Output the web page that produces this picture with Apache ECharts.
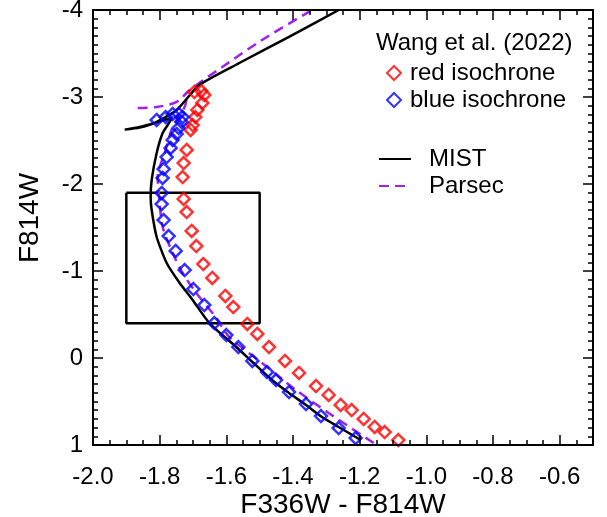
<!DOCTYPE html>
<html>
<head>
<meta charset="utf-8">
<script src="https://cdn.jsdelivr.net/npm/echarts@6/dist/echarts.min.js"></script>
<style>
  html, body { margin: 0; padding: 0; background: #fff; }
  #chart { width: 607px; height: 517px; }
</style>
</head>
<body>
<div id="chart"></div>
<script>
// data: [F336W - F814W, F814W]
const mistCurve = [
  [-1.197, 0.943], [-1.212, 0.908], [-1.263, 0.793], [-1.313, 0.678], [-1.361, 0.540],
  [-1.412, 0.402], [-1.463, 0.253], [-1.522, 0.046], [-1.570, -0.126], [-1.651, -0.402],
  [-1.701, -0.667], [-1.740, -0.862], [-1.779, -1.092], [-1.809, -1.391], [-1.824, -1.701],
  [-1.827, -1.851], [-1.824, -2.046], [-1.809, -2.356], [-1.791, -2.586], [-1.770, -2.713],
  [-1.764, -2.759], [-1.815, -2.701], [-1.860, -2.655], [-1.905, -2.625], [-1.860, -2.648],
  [-1.815, -2.703], [-1.749, -2.851], [-1.681, -3.138], [-1.561, -3.391], [-1.412, -3.690],
  [-1.263, -4.0]
]
const parsecLower = [
  [-1.158, 0.977], [-1.293, 0.632], [-1.391, 0.368], [-1.493, 0.057], [-1.591, -0.241],
  [-1.630, -0.460], [-1.690, -0.747], [-1.731, -0.977], [-1.761, -1.207], [-1.791, -1.506],
  [-1.800, -1.782], [-1.806, -2.080], [-1.785, -2.356], [-1.761, -2.655], [-1.725, -2.885],
  [-1.719, -2.989]
]
const parsecUpper = [
  [-1.866, -2.874], [-1.809, -2.885], [-1.749, -2.943], [-1.710, -3.080], [-1.612, -3.345],
  [-1.493, -3.655], [-1.343, -4.0]
]
const redIso = [
  [-1.696, -3.057], [-1.675, -3.069], [-1.666, -3.023], [-1.672, -2.931], [-1.687, -2.851],
  [-1.693, -2.770], [-1.701, -2.678], [-1.707, -2.621], [-1.719, -2.391], [-1.728, -2.241],
  [-1.731, -2.080], [-1.728, -1.828], [-1.719, -1.678], [-1.704, -1.460], [-1.690, -1.287],
  [-1.669, -1.080], [-1.642, -0.920], [-1.603, -0.713], [-1.579, -0.586], [-1.537, -0.391],
  [-1.507, -0.276], [-1.472, -0.126], [-1.424, 0.034], [-1.382, 0.172], [-1.331, 0.322],
  [-1.293, 0.425], [-1.257, 0.540], [-1.224, 0.598], [-1.188, 0.701], [-1.155, 0.793],
  [-1.125, 0.851], [-1.084, 0.943]
]
const blueIso = [
  [-1.809, -2.736], [-1.782, -2.770], [-1.761, -2.805], [-1.743, -2.805], [-1.731, -2.770],
  [-1.734, -2.713], [-1.743, -2.644], [-1.749, -2.575], [-1.761, -2.506], [-1.767, -2.414],
  [-1.779, -2.310], [-1.788, -2.172], [-1.791, -2.069], [-1.794, -1.897], [-1.794, -1.770],
  [-1.788, -1.586], [-1.773, -1.402], [-1.752, -1.230], [-1.725, -1.011], [-1.699, -0.793],
  [-1.666, -0.609], [-1.636, -0.402], [-1.600, -0.264], [-1.564, -0.126], [-1.522, 0.034],
  [-1.478, 0.161], [-1.451, 0.253], [-1.412, 0.391], [-1.361, 0.529], [-1.316, 0.667],
  [-1.263, 0.805], [-1.212, 0.920]
]
// selection box
const boxX = [-1.9, -1.5]
const boxY = [-1.9, -0.4]

const font = 'Liberation Sans, Arial, Helvetica, sans-serif'
const boxPath = [
  [boxX[0], boxY[0]], [boxX[1], boxY[0]], [boxX[1], boxY[1]], [boxX[0], boxY[1]], [boxX[0], boxY[0]]
]

function xAxisOf(pos, interval, len, main) {
  const labelled = main && pos === 'bottom'
  return {
    type: 'value',
    position: pos,
    min: -2.0,
    max: -0.5,
    interval: interval,
    z: 10,
    axisLine: { show: main, onZero: false, lineStyle: { color: '#000', width: 2 } },
    axisTick: { show: true, inside: true, length: len, lineStyle: { color: '#000', width: 1.5 } },
    splitLine: { show: false },
    axisLabel: labelled ? {
      show: true,
      color: '#000',
      fontFamily: font,
      fontSize: 24,
      margin: 20,
      formatter: v => (v > -0.55 ? '' : v.toFixed(1))
    } : { show: false }
  }
}

function yAxisOf(pos, main) {
  return {
    type: 'value',
    position: pos,
    min: -4,
    max: 1,
    interval: 1,
    inverse: true,
    z: 10,
    axisLine: { show: true, onZero: false, lineStyle: { color: '#000', width: 2 } },
    axisTick: { show: true, inside: true, length: 10, lineStyle: { color: '#000', width: 1.5 } },
    minorTick: { show: true, splitNumber: 10, length: 5, lineStyle: { color: '#000', width: 1.5 } },
    splitLine: { show: false },
    minorSplitLine: { show: false },
    axisLabel: main ? {
      show: true,
      color: '#000',
      fontFamily: font,
      fontSize: 24,
      margin: 10
    } : { show: false }
  }
}

const chart = echarts.init(document.getElementById('chart'))

chart.setOption({
  animation: false,
  grid: { left: 93, right: 14, top: 10, bottom: 72, outerBoundsMode: 'none' },
  title: {
    text: 'Wang et al. (2022)',
    left: 376,
    top: 31,
    padding: 0,
    textStyle: { color: '#000', fontFamily: font, fontSize: 24, fontWeight: 'normal' }
  },
  // axis titles
  graphic: [
    {
      type: 'text',
      x: 343,
      y: 505,
      style: {
        text: 'F336W - F814W', fill: '#000', fontFamily: font, fontSize: 28,
        align: 'center', verticalAlign: 'middle', textAlign: 'center', textVerticalAlign: 'middle'
      }
    },
    {
      type: 'text',
      x: 30,
      y: 218,
      rotation: Math.PI / 2,
      style: {
        text: 'F814W', fill: '#000', fontFamily: font, fontSize: 28,
        align: 'center', verticalAlign: 'middle', textAlign: 'center', textVerticalAlign: 'middle'
      }
    }
  ],
  legend: [
    {
      data: ['red isochrone', 'blue isochrone'],
      orient: 'vertical',
      left: 386,
      top: 61,
      padding: 0,
      itemGap: 3,
      itemWidth: 14,
      itemHeight: 14,
      textStyle: { color: '#000', fontFamily: font, fontSize: 24, padding: [0, 0, 0, 4] }
    },
    {
      data: ['MIST', 'Parsec'],
      orient: 'vertical',
      left: 378,
      top: 147,
      padding: 0,
      itemGap: 3,
      itemWidth: 32,
      itemHeight: 14,
      itemStyle: { opacity: 0 },
      textStyle: { color: '#000', fontFamily: font, fontSize: 24, padding: [0, 0, 0, 13] }
    }
  ],
  xAxis: [
    xAxisOf('bottom', 0.2, 10, true),
    xAxisOf('bottom', 0.05, 5, false),
    xAxisOf('top', 0.2, 10, true),
    xAxisOf('top', 0.05, 5, false)
  ],
  yAxis: [yAxisOf('left', true), yAxisOf('right', false)],
  series: [
    {
      type: 'line',
      name: 'box',
      data: boxPath,
      symbol: 'none',
      lineStyle: { color: '#000', width: 2.5 },
      z: 2
    },
    {
      type: 'line',
      name: 'Parsec',
      data: parsecLower,
      symbol: 'none',
      smooth: 0.3,
      itemStyle: { color: '#A020F0' },
      lineStyle: { color: '#A020F0', width: 2.5, type: [10, 6] },
      z: 3
    },
    {
      type: 'line',
      name: 'Parsec',
      data: parsecUpper,
      symbol: 'none',
      smooth: 0.3,
      itemStyle: { color: '#A020F0' },
      lineStyle: { color: '#A020F0', width: 2.5, type: [10, 6] },
      z: 3
    },
    {
      type: 'line',
      name: 'MIST',
      data: mistCurve,
      symbol: 'none',
      smooth: 0.2,
      itemStyle: { color: '#000' },
      lineStyle: { color: '#000', width: 2.5 },
      z: 3
    },
    {
      type: 'scatter',
      name: 'red isochrone',
      data: redIso,
      symbol: 'diamond',
      symbolSize: 12,
      itemStyle: { color: 'rgba(255,255,255,0)', borderColor: '#FF0000', borderWidth: 2.5 },
      z: 4
    },
    {
      type: 'scatter',
      name: 'blue isochrone',
      data: blueIso,
      symbol: 'diamond',
      symbolSize: 12,
      itemStyle: { color: 'rgba(255,255,255,0)', borderColor: '#0000FF', borderWidth: 2.5 },
      z: 4
    }
  ]
})
</script>
</body>
</html>
